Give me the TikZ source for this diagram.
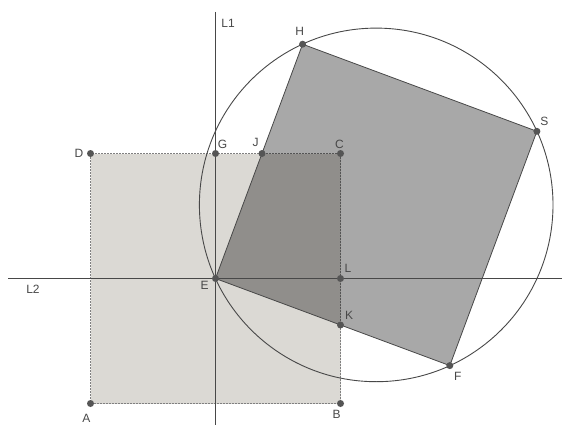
\documentclass[tikz,border=0pt]{standalone}
\usepackage{fontspec}
\setmainfont{Liberation Sans}
\usepackage{tikz}
\usetikzlibrary{calc, positioning, backgrounds}
\usepackage{xcolor}
\definecolor{inkgray}{RGB}{72,72,72}
\definecolor{dotgray}{RGB}{85,85,85}
\definecolor{lightsq}{RGB}{219,217,212}
\tikzset{
  dot/.style={
    circle, fill=dotgray, inner sep=0pt, minimum size=7pt
  },
  lbl/.style={
    inner sep=0pt, text=inkgray,
    font=\fontsize{12}{14}\selectfont
  },
  axis/.style={draw=inkgray, line width=1.1pt},
  basesq/.style={
    fill=lightsq, draw=gray, line width=0.6pt,
    dash pattern=on 2pt off 1pt
  },
  turnsq/.style={
    fill=black, fill opacity=0.34,
    draw=inkgray, draw opacity=1, line width=0.8pt
  },
  circ/.style={draw=inkgray, line width=0.9pt},
}

\begin{document}
\begin{tikzpicture}[x=1pt, y=-1pt]
  \useasboundingbox (0,0) rectangle (562,425);

  % square ABCD and its centre E
  \node[dot] (A) at (90.5,403.5) {};
  \node[dot] (B) at (340.5,403.5) {};
  \node[dot] (C) at (340.5,153.5) {};
  \node[dot] (D) at (90.5,153.5) {};
  \node[dot] (E) at (215.5,278.5) {};
  \node[dot] (G) at (215.5,153.5) {};
  \node[dot] (L) at (340.5,278.5) {};

  % turned square EFSH
  \node[dot] (F) at (449.8,365.6) {};
  \node[dot] (H) at (302.6,44.2) {};
  \node[dot] (S) at (536.9,131.3) {};
  \node[dot] (J) at (262.0,153.5) {};
  \node[dot] (K) at (340.5,325.0) {};

  \coordinate (M) at ($(E.center)!0.5!(S.center)$);
  \coordinate (L1top) at (215.5,12);
  \coordinate (L1bot) at (215.5,425);
  \coordinate (L2left) at (8,278.5);
  \coordinate (L2right) at (562,278.5);

  \begin{scope}[on background layer]
    \draw[basesq] (A.center) -- (B.center) -- (C.center) -- (D.center) -- cycle;
    \draw[turnsq] (E.center) -- (F.center) -- (S.center) -- (H.center) -- cycle;
    \draw[circ] (M) circle[radius=176.8];
    \draw[axis] (L1top) -- (L1bot);
    \draw[axis] (L2left) -- (L2right);
  \end{scope}

  % labels
  \node[lbl] (lA) at ($(A)+(-4,15)$) {A};
  \node[lbl] (lB) at ($(B)+(-4,11)$) {B};
  \node[lbl] (lC) at ($(C)+(-1,-9)$) {C};
  \node[lbl] (lD) at ($(D)+(-11.5,0)$) {D};
  \node[lbl] (lE) at ($(E)+(-11,6.5)$) {E};
  \node[lbl] (lF) at ($(F)+(8,11)$) {F};
  \node[lbl] (lG) at ($(G)+(7,-9)$) {G};
  \node[lbl] (lH) at ($(H)+(-3,-13)$) {H};
  \node[lbl] (lJ) at ($(J)+(-6.5,-11)$) {J};
  \node[lbl] (lK) at ($(K)+(8.5,-10)$) {K};
  \node[lbl] (lL) at ($(L)+(7.5,-10)$) {L};
  \node[lbl] (lS) at ($(S)+(7.5,-10)$) {S};
  \node[lbl] (lL1) at ($(L1top)+(12.5,11)$) {L1};
  \node[lbl] (lL2) at ($(L2left)+(25,11)$) {L2};
\end{tikzpicture}
\end{document}
